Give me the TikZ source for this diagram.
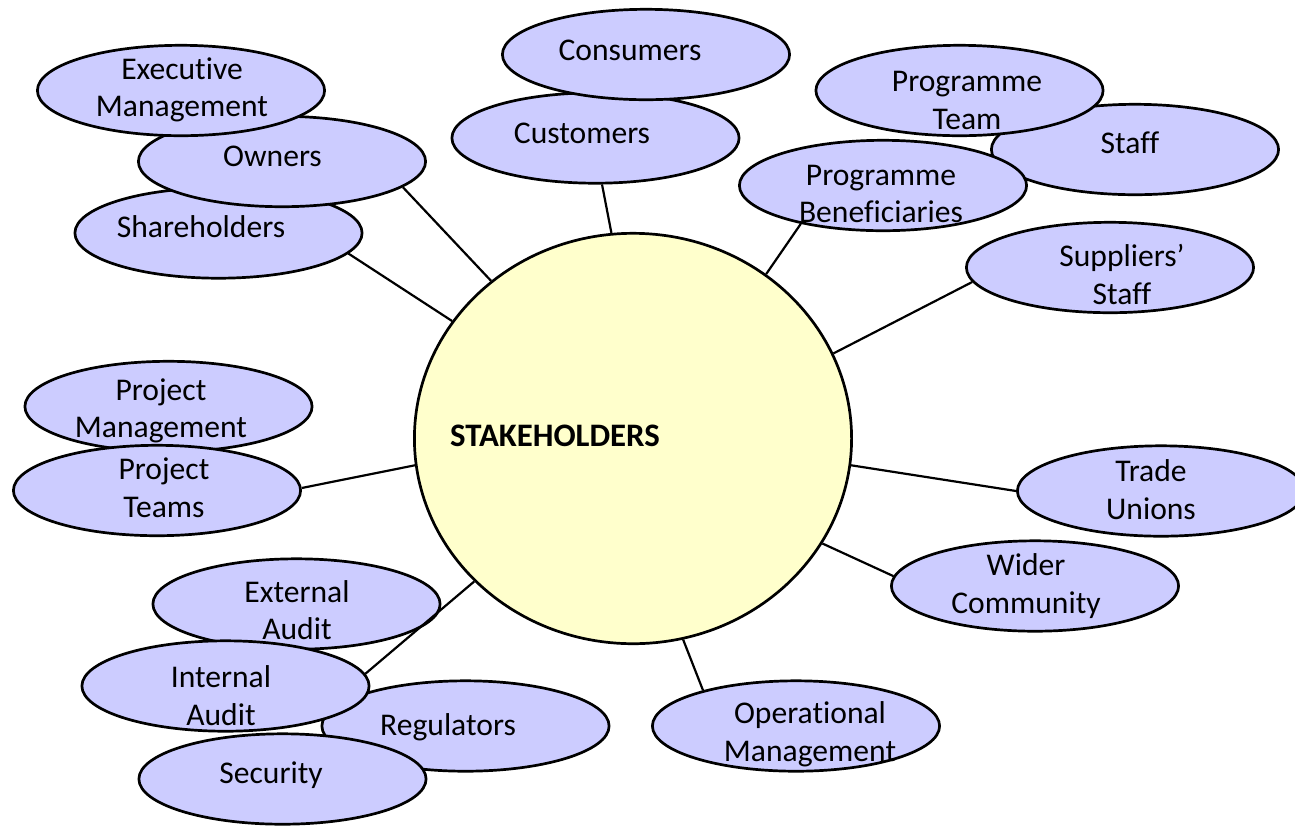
\documentclass[tikz,border=0pt]{standalone}
\usepackage{fontspec}
\setmainfont{Carlito}[Ligatures=NoCommon]
\usetikzlibrary{shapes.geometric}
\definecolor{bubfill}{HTML}{CCCCFF}
\definecolor{hubfill}{HTML}{FFFFCC}
\begin{document}
\begin{tikzpicture}[x=0.5pt,y=-0.5pt,
  bub/.style={ellipse, draw=black, line width=1.35pt, fill=bubfill,
    minimum width=143.6pt, minimum height=45.2pt, inner sep=0pt},
  hub/.style={ellipse, draw=black, line width=1.35pt, fill=hubfill,
    minimum width=218.6pt, minimum height=205.2pt, inner sep=0pt},
  lbl/.style={font=\fontsize{15.8}{18.75}\selectfont, align=center,
    inner sep=0pt, anchor=center},
  link/.style={draw=black, line width=1.1pt}]
\useasboundingbox[fill=white] (0,0) rectangle (1295,826);

% hub
\node[hub] (hub) at (633,438.5) {};

% bubbles (in stacking order)
\node[bub] (share)    at (218.5,233)  {};
\node[bub] (owners)   at (282,161.5)  {};
\node[bub] (exec)     at (181,90.5)   {};
\node[bub] (customers) at (595.5,138) {};
\node[bub] (consumers) at (646,54.5)  {};
\node[bub] (staff)    at (1135,149.5) {};
\node[bub] (pteam)    at (959.5,90.5) {};
\node[bub] (pbenef)   at (883,185.5)  {};
\node[bub] (suppl)    at (1110,267.5) {};
\node[bub] (pmgmt)    at (168.5,406.5) {};
\node[bub] (pteams)   at (157,490.5)  {};
\node[bub] (trade)    at (1161,491)   {};
\node[bub] (wider)    at (1035,586)   {};
\node[bub] (opmgmt)   at (796,726)    {};
\node[bub] (regul)    at (465.5,726)  {};
\node[bub] (extaud)   at (296.5,604)  {};
\node[bub] (intaud)   at (225.5,686)  {};
\node[bub] (security) at (282.5,779)  {};

% connectors
\draw[link] (hub.132.1) -- (owners.-12.5);
\draw[link] (hub.147.7) -- (share.-9.6);
\draw[link] (hub.96.4)  -- (customers.-82.4);
\draw[link] (hub.51.6)  -- (pbenef.205.1);
\draw[link] (hub.23.2)  -- (suppl.186.3);
\draw[link] (hub.187.4) -- (pteams.1.4);
\draw[link] (hub.-7.4)  -- (trade.180);
\draw[link] (hub.-29.3) -- (wider.176.6);
\draw[link] (hub.-76.3) -- (opmgmt.159);
\draw[link] (hub.222.8) -- (intaud.5.7);

% labels
\node[lbl] (t-hub) at (555,438.5) {\fontsize{16.4}{18.75}\selectfont\bfseries\strut STAKEHOLDERS};
\node[lbl] (t-exec) at (182,90.5) {\strut Executive\\\strut Management};
\node[lbl] (t-owners) at (272.5,158.5) {\strut Owners};
\node[lbl] (t-share) at (201,229.5) {\strut Shareholders};
\node[lbl] (t-consumers) at (630,52.5) {\strut Consumers};
\node[lbl] (t-customers) at (582,135.5) {\strut Customers};
\node[lbl] (t-pteam) at (967,103) {\strut Programme\\\strut Team};
\node[lbl] (t-staff) at (1130,145.5) {\strut Staff};
\node[lbl] (t-pbenef) at (881,196.5) {\strut Programme\\\strut Beneficiaries};
\node[lbl] (t-suppl) at (1122,278) {\strut Suppliers’\\\strut Staff};
\node[lbl] (t-pmgmt) at (161,411.5) {\strut Project\\\strut Management};
\node[lbl] (t-pteams) at (164,491) {\strut Project\\\strut Teams};
\node[lbl] (t-trade) at (1151,493) {\strut Trade\\\strut Unions};
\node[lbl] (t-wider) at (1026,587) {\strut Wider\\\strut Community};
\node[lbl] (t-opmgmt) at (810,735) {\strut Operational\\\strut Management};
\node[lbl] (t-regul) at (448,727.5) {\strut Regulators};
\node[lbl] (t-extaud) at (297,613.5) {\strut External\\\strut Audit};
\node[lbl] (t-intaud) at (221,699) {\strut Internal\\\strut Audit};
\node[lbl] (t-security) at (271,775.5) {\strut Security};
\end{tikzpicture}
\end{document}
